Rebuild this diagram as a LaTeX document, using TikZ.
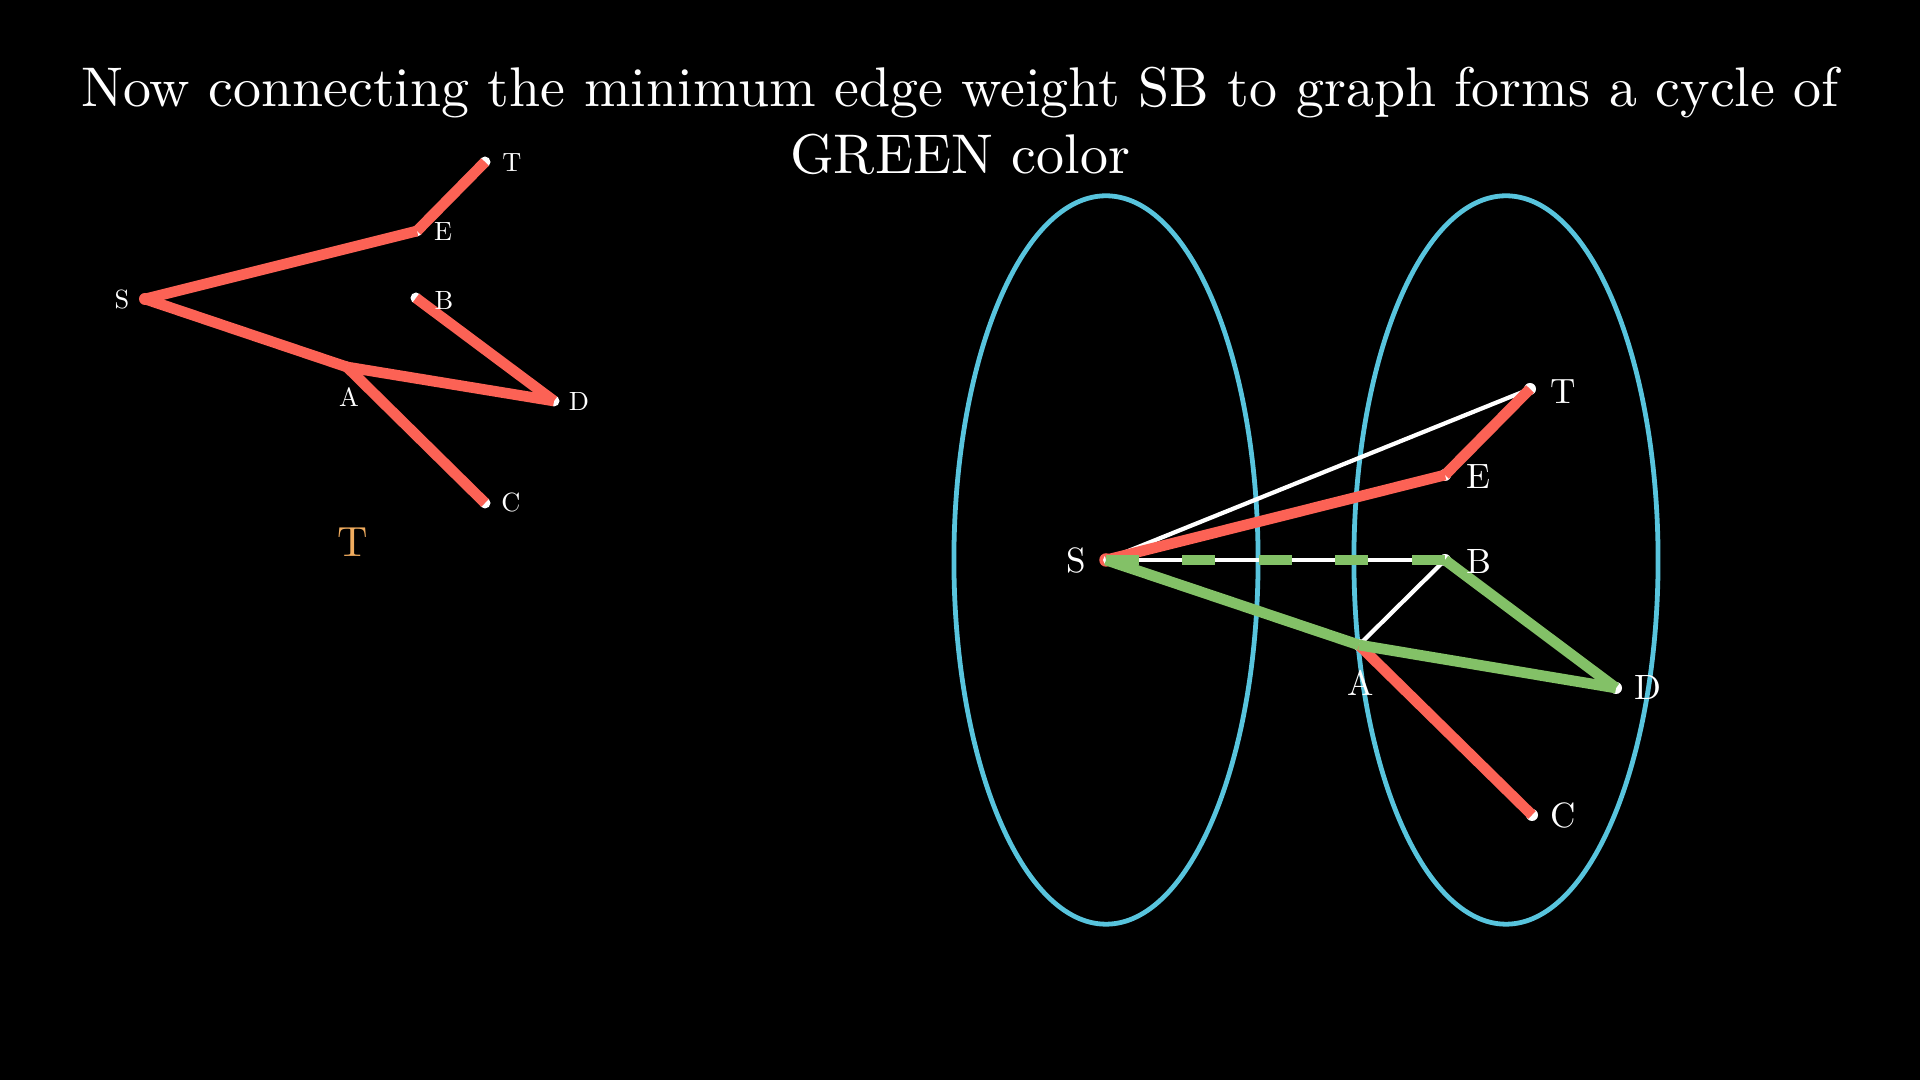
\documentclass[tikz,border=0pt]{standalone}
\usetikzlibrary{shapes.geometric}
\definecolor{mred}{HTML}{FC6255}
\definecolor{mgreen}{HTML}{83C167}
\definecolor{mblue}{HTML}{58C4DD}
\definecolor{mgold}{HTML}{F0AC5F}
\newcommand{\mtxt}[2]{\scalebox{#1}{\fontsize{10}{12}\selectfont #2}}
\begin{document}
\begin{tikzpicture}[x=0.01cm,y=-0.01cm,
  vtx/.style={circle,fill=white,inner sep=0pt,minimum size=#1},
  svtx/.style={circle,fill=mred,inner sep=0pt,minimum size=#1},
  lbl/.style={text=white,inner sep=0pt},
  titletext/.style={text=white,inner sep=0pt,anchor=base},
  redge/.style={draw=mred,line width=3.05pt},
  gedge/.style={draw=mgreen,line width=3.05pt},
  wedge/.style={draw=white,line width=1.2pt},
  gdash/.style={draw=mgreen,line width=3.05pt,dash pattern=on 0.33cm off 0.434cm},
  oval/.style={draw=mblue,line width=1.36pt,ellipse,minimum width=3.04cm,minimum height=7.28cm,inner sep=0pt}
]
\useasboundingbox[fill=black] (0,0) rectangle (1920,1080);

% title
\node[titletext] (title1) at (960,106.7) {\mtxt{1.59}{Now connecting the minimum edge weight SB to graph forms a cycle of}};
\node[titletext] (title2) at (960,173.3) {\mtxt{1.59}{GREEN color}};

% ---------- left graph ----------
\node[vtx=0.11cm] (lE) at (417,231) {};
\node[vtx=0.11cm] (lT) at (485,162) {};
\node[vtx=0.11cm] (lB) at (416,298) {};
\node[vtx=0.11cm] (lA) at (347,367) {};
\node[vtx=0.11cm] (lD) at (554,401) {};
\node[vtx=0.11cm] (lC) at (485,503) {};
\node[svtx=0.12cm] (lS) at (145,299) {};

\draw[redge] (lS.center) -- (lE.center);
\draw[redge] (lE.center) -- (lT.center);
\draw[redge] (lS.center) -- (lA.center);
\draw[redge] (lA.center) -- (lD.center);
\draw[redge] (lD.center) -- (lB.center);
\draw[redge] (lA.center) -- (lC.center);

\node[lbl] (lSl) at (122,300) {\mtxt{0.75}{S}};
\node[lbl] (lEl) at (443,232) {\mtxt{0.75}{E}};
\node[lbl] (lTl) at (512,163) {\mtxt{0.75}{T}};
\node[lbl] (lBl) at (444,301) {\mtxt{0.75}{B}};
\node[lbl] (lAl) at (349,397) {\mtxt{0.75}{A}};
\node[lbl] (lDl) at (579,402) {\mtxt{0.75}{D}};
\node[lbl] (lCl) at (511,503) {\mtxt{0.75}{C}};
\node[text=mgold,inner sep=0pt] (lname) at (353,542) {\mtxt{1.2}{T}};

% ---------- right graph ----------
\node[oval] (ovL) at (1106,560) {};
\node[oval] (ovR) at (1506,560) {};

\node[vtx=0.12cm] (rT) at (1530,389) {};
\node[vtx=0.12cm] (rE) at (1445,475) {};
\node[vtx=0.12cm] (rB) at (1445,560) {};
\node[vtx=0.12cm] (rA) at (1359,645) {};
\node[vtx=0.12cm] (rD) at (1616,688) {};
\node[vtx=0.12cm] (rC) at (1532,815) {};
\node[svtx=0.135cm] (rS) at (1106,560) {};
\node[vtx=0.1cm] (rSw) at (1108,560) {};

\draw[wedge] (rS.center) -- (rT.center);
\draw[wedge] (rS.center) -- (rB.center);
\draw[wedge] (rB.center) -- (rA.center);

\draw[redge] (rS.center) -- (rE.center);
\draw[redge] (rE.center) -- (rT.center);
\draw[redge] (rA.center) -- (rC.center);

\draw[gedge] (rS.center) -- (rA.center);
\draw[gedge] (rA.center) -- (rD.center);
\draw[gedge] (rD.center) -- (rB.center);
\draw[gdash] (rS.center) -- (rB.center);

\node[lbl] (rSl) at (1076,560) {\mtxt{1.0}{S}};
\node[lbl] (rTl) at (1563,392) {\mtxt{1.0}{T}};
\node[lbl] (rEl) at (1478,477) {\mtxt{1.0}{E}};
\node[lbl] (rBl) at (1479,562) {\mtxt{1.0}{B}};
\node[lbl] (rAl) at (1361,683) {\mtxt{1.0}{A}};
\node[lbl] (rDl) at (1648,688) {\mtxt{1.0}{D}};
\node[lbl] (rCl) at (1563,815) {\mtxt{1.0}{C}};
\end{tikzpicture}
\end{document}
